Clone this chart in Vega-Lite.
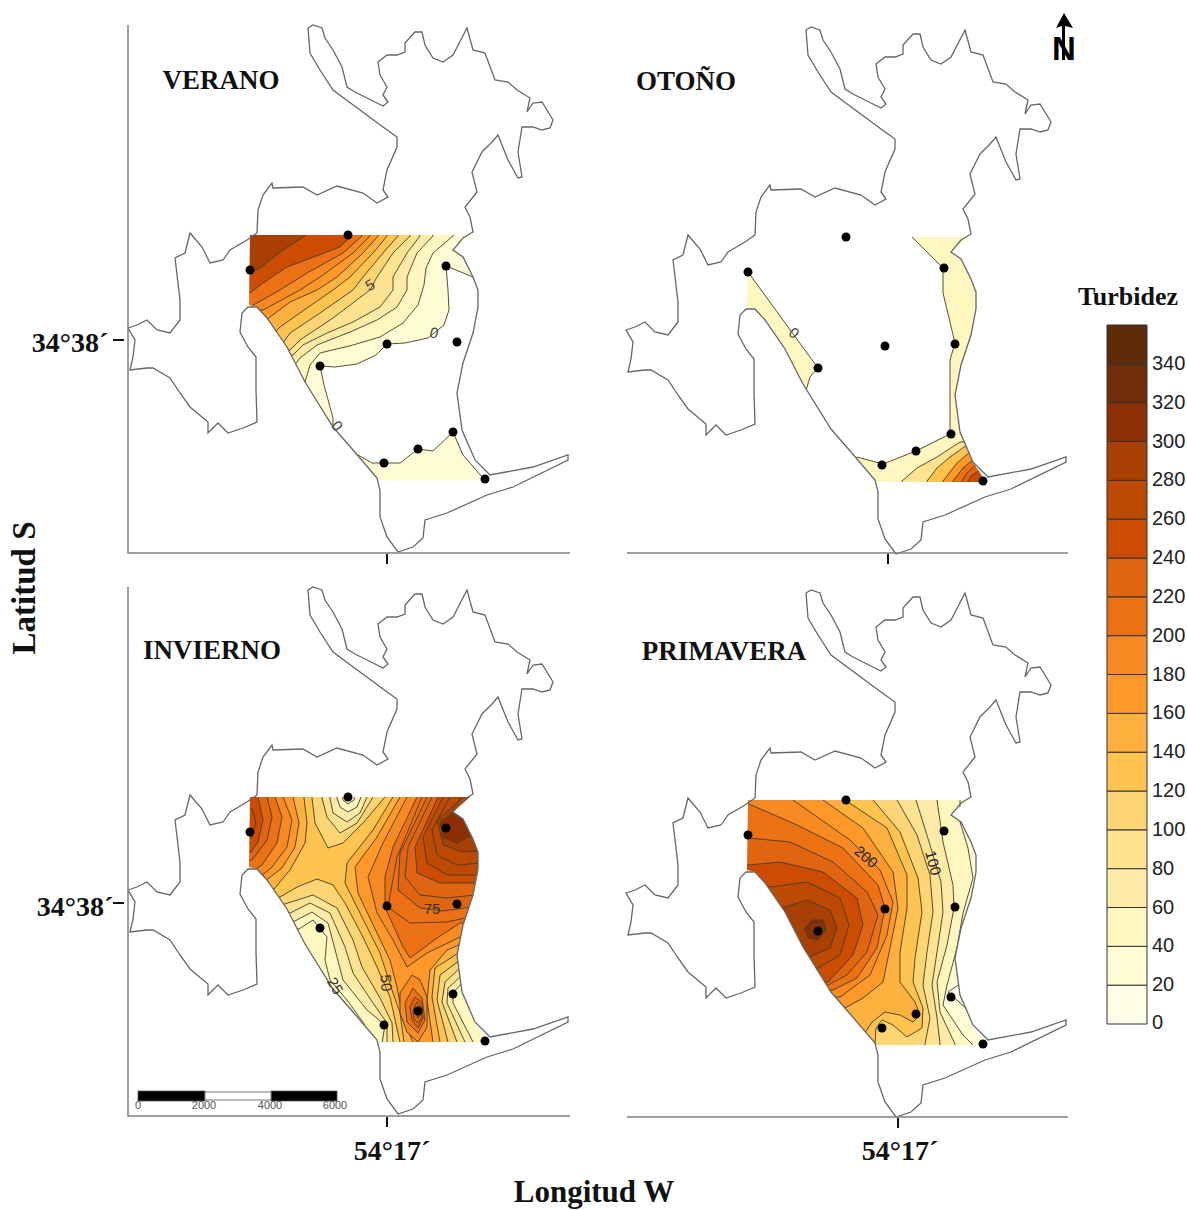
{
"$schema":"https://vega.github.io/schema/vega-lite/v6.json",
"width":1187,"height":1210,"autosize":"none","padding":0,"background":"white",
"config":{"view":{"stroke":null}},
"resolve":{"scale":{"x":"independent","y":"independent"}},
"datasets":{
"outline":[{"i":1,"x":308,"y":28},{"i":2,"x":310,"y":53},{"i":3,"x":320,"y":70},{"i":4,"x":333,"y":90},{"i":5,"x":360,"y":110},{"i":6,"x":383,"y":127},{"i":7,"x":397,"y":137},{"i":8,"x":397,"y":147},{"i":9,"x":387,"y":170},{"i":10,"x":383,"y":190},{"i":11,"x":388,"y":197},{"i":12,"x":377,"y":203},{"i":13,"x":363,"y":193},{"i":14,"x":337,"y":186},{"i":15,"x":317,"y":195},{"i":16,"x":303,"y":187},{"i":17,"x":273,"y":188},{"i":18,"x":272,"y":183},{"i":19,"x":263,"y":195},{"i":20,"x":258,"y":210},{"i":21,"x":257,"y":233},{"i":22,"x":247,"y":240},{"i":23,"x":230,"y":250},{"i":24,"x":223,"y":260},{"i":25,"x":210,"y":263},{"i":26,"x":202,"y":247},{"i":27,"x":190,"y":233},{"i":28,"x":185,"y":253},{"i":29,"x":175,"y":258},{"i":30,"x":178,"y":283},{"i":31,"x":180,"y":300},{"i":32,"x":180,"y":320},{"i":33,"x":170,"y":333},{"i":34,"x":157,"y":330},{"i":35,"x":147,"y":320},{"i":36,"x":137,"y":325},{"i":37,"x":128,"y":328},{"i":38,"x":135,"y":340},{"i":39,"x":133,"y":357},{"i":40,"x":130,"y":370},{"i":41,"x":147,"y":368},{"i":42,"x":153,"y":368},{"i":43,"x":170,"y":378},{"i":44,"x":180,"y":393},{"i":45,"x":190,"y":407},{"i":46,"x":208,"y":422},{"i":47,"x":208,"y":433},{"i":48,"x":218,"y":423},{"i":49,"x":228,"y":433},{"i":50,"x":243,"y":428},{"i":51,"x":257,"y":422},{"i":52,"x":256,"y":390},{"i":53,"x":256,"y":357},{"i":54,"x":248,"y":347},{"i":55,"x":240,"y":332},{"i":56,"x":242,"y":313},{"i":57,"x":248,"y":307},{"i":58,"x":257,"y":307},{"i":59,"x":267,"y":318},{"i":60,"x":287,"y":347},{"i":61,"x":305,"y":382},{"i":62,"x":333,"y":427},{"i":63,"x":353,"y":450},{"i":64,"x":377,"y":478},{"i":65,"x":380,"y":490},{"i":66,"x":380,"y":517},{"i":67,"x":387,"y":537},{"i":68,"x":398,"y":552},{"i":69,"x":413,"y":547},{"i":70,"x":423,"y":538},{"i":71,"x":425,"y":520},{"i":72,"x":447,"y":513},{"i":73,"x":487,"y":495},{"i":74,"x":513,"y":487},{"i":75,"x":568,"y":460},{"i":76,"x":568,"y":455},{"i":77,"x":533,"y":467},{"i":78,"x":490,"y":475},{"i":79,"x":475,"y":460},{"i":80,"x":462,"y":430},{"i":81,"x":457,"y":393},{"i":82,"x":463,"y":363},{"i":83,"x":473,"y":333},{"i":84,"x":478,"y":307},{"i":85,"x":478,"y":290},{"i":86,"x":473,"y":277},{"i":87,"x":463,"y":257},{"i":88,"x":453,"y":250},{"i":89,"x":463,"y":238},{"i":90,"x":473,"y":232},{"i":91,"x":470,"y":217},{"i":92,"x":465,"y":207},{"i":93,"x":477,"y":192},{"i":94,"x":472,"y":172},{"i":95,"x":482,"y":152},{"i":96,"x":492,"y":142},{"i":97,"x":498,"y":135},{"i":98,"x":508,"y":160},{"i":99,"x":518,"y":178},{"i":100,"x":522,"y":177},{"i":101,"x":518,"y":152},{"i":102,"x":522,"y":127},{"i":103,"x":533,"y":127},{"i":104,"x":542,"y":130},{"i":105,"x":550,"y":128},{"i":106,"x":553,"y":120},{"i":107,"x":542,"y":102},{"i":108,"x":533,"y":103},{"i":109,"x":527,"y":112},{"i":110,"x":530,"y":98},{"i":111,"x":517,"y":90},{"i":112,"x":508,"y":82},{"i":113,"x":495,"y":80},{"i":114,"x":485,"y":53},{"i":115,"x":473,"y":50},{"i":116,"x":467,"y":28},{"i":117,"x":453,"y":55},{"i":118,"x":443,"y":62},{"i":119,"x":433,"y":58},{"i":120,"x":425,"y":45},{"i":121,"x":422,"y":32},{"i":122,"x":415,"y":32},{"i":123,"x":405,"y":43},{"i":124,"x":405,"y":52},{"i":125,"x":397,"y":55},{"i":126,"x":387,"y":55},{"i":127,"x":378,"y":62},{"i":128,"x":380,"y":75},{"i":129,"x":387,"y":87},{"i":130,"x":383,"y":95},{"i":131,"x":388,"y":102},{"i":132,"x":383,"y":106},{"i":133,"x":367,"y":98},{"i":134,"x":355,"y":92},{"i":135,"x":347,"y":87},{"i":136,"x":342,"y":67},{"i":137,"x":333,"y":50},{"i":138,"x":325,"y":38},{"i":139,"x":322,"y":28},{"i":140,"x":313,"y":25},{"i":141,"x":308,"y":28}],
"stations":[{"x":348,"y":235},{"x":250,"y":270},{"x":446,"y":266},{"x":387,"y":344},{"x":457,"y":342},{"x":320,"y":366},{"x":453,"y":432},{"x":418,"y":449},{"x":384,"y":463},{"x":485,"y":479}]
},
"layer":[
{"data":{"values":[
{"type":"Feature","level":30,"geometry":{"type":"Polygon","coordinates":[[[242,228],[490,228],[490,270],[473,277],[446,266],[448,290],[449,310],[444,325],[428,338],[405,343],[387,344],[376,355],[357,364],[335,367],[320,366],[324,385],[333,418],[333,428],[242,428],[242,228]]]}},
{"type":"Feature","level":30,"geometry":{"type":"Polygon","coordinates":[[[334,429],[353,452],[372,463],[384,463],[400,463],[418,449],[433,451],[453,432],[463,455],[483,478],[490,490],[345,490],[334,429]]]}},
{"type":"Feature","level":50,"geometry":{"type":"Polygon","coordinates":[[[453,228],[453,236],[433,253],[426,268],[424,285],[418,305],[403,323],[380,337],[353,345],[320,353],[310,365],[305,382],[242,382],[242,228],[453,228]]]}},
{"type":"Feature","level":70,"geometry":{"type":"Polygon","coordinates":[[[433,228],[433,236],[417,253],[407,277],[407,290],[397,307],[377,320],[350,332],[317,345],[300,358],[295,365],[242,365],[242,228],[433,228]]]}},
{"type":"Feature","level":90,"geometry":{"type":"Polygon","coordinates":[[[420,228],[420,236],[407,253],[393,277],[393,290],[380,307],[353,322],[327,333],[303,345],[293,355],[242,355],[242,228],[420,228]]]}},
{"type":"Feature","level":110,"geometry":{"type":"Polygon","coordinates":[[[410,228],[410,236],[393,253],[377,277],[370,290],[333,318],[300,340],[290,350],[242,350],[242,228],[410,228]]]}},
{"type":"Feature","level":130,"geometry":{"type":"Polygon","coordinates":[[[398,228],[398,236],[383,253],[363,277],[353,290],[320,313],[290,333],[283,343],[242,343],[242,228],[398,228]]]}},
{"type":"Feature","level":150,"geometry":{"type":"Polygon","coordinates":[[[387,228],[387,236],[373,253],[350,277],[333,290],[307,308],[280,327],[275,332],[242,332],[242,228],[387,228]]]}},
{"type":"Feature","level":170,"geometry":{"type":"Polygon","coordinates":[[[378,228],[378,236],[363,253],[337,277],[317,290],[290,302],[270,317],[267,320],[242,320],[242,228],[378,228]]]}},
{"type":"Feature","level":190,"geometry":{"type":"Polygon","coordinates":[[[370,228],[370,236],[353,253],[323,275],[300,290],[263,310],[242,310],[242,228],[370,228]]]}},
{"type":"Feature","level":210,"geometry":{"type":"Polygon","coordinates":[[[362,228],[362,236],[343,253],[307,273],[280,290],[257,303],[250,307],[242,307],[242,228],[362,228]]]}},
{"type":"Feature","level":250,"geometry":{"type":"Polygon","coordinates":[[[351,228],[351,236],[340,247],[287,267],[263,283],[250,293],[242,293],[242,228],[351,228]]]}},
{"type":"Feature","level":290,"geometry":{"type":"Polygon","coordinates":[[[305,228],[305,236],[283,250],[260,268],[250,273],[242,273],[242,228],[305,228]]]}},
{"type":"Feature","level":50,"geometry":{"type":"Polygon","coordinates":[[[748,272],[818,368],[810,377],[805,394],[740,394],[740,272],[748,272]]]}},
{"type":"Feature","level":50,"geometry":{"type":"Polygon","coordinates":[[[912,230],[912,237],[943,268],[943,293],[955,343],[950,360],[950,430],[952,433],[916,451],[883,464],[857,457],[843,472],[843,492],[988,492],[988,230],[912,230]]]}},
{"type":"Feature","level":90,"geometry":{"type":"Polygon","coordinates":[[[988,442],[960,442],[937,457],[917,468],[902,481],[902,492],[988,492],[988,442]]]}},
{"type":"Feature","level":130,"geometry":{"type":"Polygon","coordinates":[[[988,445],[967,445],[950,457],[937,468],[927,481],[927,492],[988,492],[988,445]]]}},
{"type":"Feature","level":170,"geometry":{"type":"Polygon","coordinates":[[[988,452],[970,452],[957,463],[943,481],[943,492],[988,492],[988,452]]]}},
{"type":"Feature","level":210,"geometry":{"type":"Polygon","coordinates":[[[988,458],[975,458],[963,468],[953,481],[953,492],[988,492],[988,458]]]}},
{"type":"Feature","level":230,"geometry":{"type":"Polygon","coordinates":[[[988,463],[978,463],[967,473],[962,481],[962,492],[988,492],[988,463]]]}},
{"type":"Feature","level":250,"geometry":{"type":"Polygon","coordinates":[[[988,469],[982,469],[972,475],[968,481],[968,492],[988,492],[988,469]]]}},
{"type":"Feature","level":130,"geometry":{"type":"Polygon","coordinates":[[[242,790],[493,790],[493,1055],[242,1055],[242,790]]]}},
{"type":"Feature","level":150,"geometry":{"type":"Polygon","coordinates":[[[304,790],[304,798],[307,823],[305,843],[290,870],[274,889],[242,895],[242,790],[304,790]]]}},
{"type":"Feature","level":170,"geometry":{"type":"Polygon","coordinates":[[[293,790],[293,797],[299,823],[295,847],[282,868],[265,881],[242,890],[242,790],[293,790]]]}},
{"type":"Feature","level":190,"geometry":{"type":"Polygon","coordinates":[[[283,790],[283,797],[292,820],[287,847],[272,867],[260,877],[242,880],[242,790],[283,790]]]}},
{"type":"Feature","level":210,"geometry":{"type":"Polygon","coordinates":[[[275,790],[275,797],[282,817],[277,843],[262,865],[254,870],[242,873],[242,790],[275,790]]]}},
{"type":"Feature","level":230,"geometry":{"type":"Polygon","coordinates":[[[267,790],[267,797],[272,817],[267,840],[252,860],[242,863],[242,790],[267,790]]]}},
{"type":"Feature","level":250,"geometry":{"type":"Polygon","coordinates":[[[258,790],[258,797],[263,820],[258,842],[251,852],[242,852],[242,790],[258,790]]]}},
{"type":"Feature","level":250,"geometry":{"type":"Polygon","coordinates":[[[242,808],[252,809],[256,823],[251,838],[242,838],[242,808]]]}},
{"type":"Feature","level":150,"geometry":{"type":"Polygon","coordinates":[[[393,790],[393,797],[373,830],[347,863],[345,883],[360,913],[380,953],[393,993],[400,1013],[404,1042],[404,1055],[493,1055],[493,790],[393,790]]]}},
{"type":"Feature","level":170,"geometry":{"type":"Polygon","coordinates":[[[400,790],[400,797],[377,837],[355,867],[358,893],[377,933],[390,960],[397,987],[403,1020],[413,1042],[413,1055],[433,1055],[433,1042],[427,1000],[430,970],[447,950],[463,943],[493,943],[493,790],[400,790]]]}},
{"type":"Feature","level":190,"geometry":{"type":"Polygon","coordinates":[[[407,790],[407,797],[383,843],[368,877],[377,913],[393,940],[407,967],[427,953],[460,937],[493,937],[493,790],[407,790]]]}},
{"type":"Feature","level":210,"geometry":{"type":"Polygon","coordinates":[[[417,790],[417,797],[393,847],[385,877],[385,907],[403,947],[410,958],[437,938],[460,923],[493,920],[493,790],[417,790]]]}},
{"type":"Feature","level":210,"geometry":{"type":"Polygon","coordinates":[[[422,790],[422,797],[397,857],[388,907],[410,923],[447,922],[493,912],[493,790],[422,790]]]}},
{"type":"Feature","level":230,"geometry":{"type":"Polygon","coordinates":[[[427,790],[427,797],[400,853],[398,890],[420,908],[443,911],[493,904],[493,790],[427,790]]]}},
{"type":"Feature","level":230,"geometry":{"type":"Polygon","coordinates":[[[432,790],[432,797],[408,847],[405,877],[420,895],[447,898],[493,893],[493,790],[432,790]]]}},
{"type":"Feature","level":250,"geometry":{"type":"Polygon","coordinates":[[[438,790],[438,797],[415,847],[417,873],[440,883],[493,883],[493,790],[438,790]]]}},
{"type":"Feature","level":270,"geometry":{"type":"Polygon","coordinates":[[[443,790],[443,797],[423,837],[427,863],[447,875],[493,875],[493,790],[443,790]]]}},
{"type":"Feature","level":270,"geometry":{"type":"Polygon","coordinates":[[[450,790],[450,797],[432,830],[437,855],[457,865],[493,862],[493,790],[450,790]]]}},
{"type":"Feature","level":290,"geometry":{"type":"Polygon","coordinates":[[[460,790],[460,800],[437,820],[443,845],[463,852],[493,850],[493,790],[460,790]]]}},
{"type":"Feature","level":310,"geometry":{"type":"Polygon","coordinates":[[[453,813],[440,822],[443,837],[457,843],[472,835],[493,830],[493,807],[453,813]]]}},
{"type":"Feature","level":190,"geometry":{"type":"Polygon","coordinates":[[[412,975],[400,993],[400,1013],[407,1032],[418,1042],[427,1027],[427,997],[420,980],[412,975]]]}},
{"type":"Feature","level":210,"geometry":{"type":"Polygon","coordinates":[[[413,988],[405,1003],[407,1022],[418,1033],[425,1020],[422,998],[413,988]]]}},
{"type":"Feature","level":230,"geometry":{"type":"Polygon","coordinates":[[[415,997],[410,1007],[412,1020],[418,1028],[423,1018],[422,1003],[415,997]]]}},
{"type":"Feature","level":230,"geometry":{"type":"Polygon","coordinates":[[[417,1002],[413,1010],[414,1019],[418,1023],[422,1017],[421,1007],[417,1002]]]}},
{"type":"Feature","level":250,"geometry":{"type":"Polygon","coordinates":[[[418,1006],[415,1012],[418,1018],[421,1013],[418,1006]]]}},
{"type":"Feature","level":110,"geometry":{"type":"Polygon","coordinates":[[[312,790],[312,798],[315,823],[328,848],[343,843],[363,823],[385,797],[385,790],[312,790]]]}},
{"type":"Feature","level":90,"geometry":{"type":"Polygon","coordinates":[[[322,790],[322,798],[327,817],[340,833],[357,823],[373,797],[373,790],[322,790]]]}},
{"type":"Feature","level":70,"geometry":{"type":"Polygon","coordinates":[[[330,790],[330,798],[333,813],[347,822],[360,813],[367,797],[367,790],[330,790]]]}},
{"type":"Feature","level":50,"geometry":{"type":"Polygon","coordinates":[[[337,790],[337,798],[340,807],[348,812],[357,807],[361,797],[361,790],[337,790]]]}},
{"type":"Feature","level":30,"geometry":{"type":"Polygon","coordinates":[[[342,790],[343,800],[348,804],[354,800],[355,790],[342,790]]]}},
{"type":"Feature","level":110,"geometry":{"type":"Polygon","coordinates":[[[242,900],[280,897],[297,887],[317,879],[333,885],[345,903],[363,937],[377,967],[390,997],[400,1042],[400,1055],[242,1055],[242,900]]]}},
{"type":"Feature","level":90,"geometry":{"type":"Polygon","coordinates":[[[242,904],[285,904],[313,895],[337,908],[353,940],[362,967],[380,998],[392,1023],[393,1042],[393,1055],[242,1055],[242,904]]]}},
{"type":"Feature","level":70,"geometry":{"type":"Polygon","coordinates":[[[242,913],[290,913],[310,903],[330,913],[345,947],[353,973],[373,1003],[387,1023],[387,1042],[387,1055],[242,1055],[242,913]]]}},
{"type":"Feature","level":50,"geometry":{"type":"Polygon","coordinates":[[[242,921],[295,921],[312,912],[328,923],[337,957],[343,980],[367,1010],[385,1025],[380,1055],[242,1055],[242,921]]]}},
{"type":"Feature","level":50,"geometry":{"type":"Polygon","coordinates":[[[242,929],[299,929],[313,920],[327,937],[325,960],[330,980],[347,1000],[365,1025],[242,1055],[242,929]]]}},
{"type":"Feature","level":130,"geometry":{"type":"Polygon","coordinates":[[[493,950],[460,952],[435,968],[432,997],[440,1042],[440,1055],[493,1055],[493,950]]]}},
{"type":"Feature","level":110,"geometry":{"type":"Polygon","coordinates":[[[493,958],[460,960],[440,975],[437,1000],[448,1042],[448,1055],[493,1055],[493,958]]]}},
{"type":"Feature","level":90,"geometry":{"type":"Polygon","coordinates":[[[493,968],[460,968],[445,982],[442,1002],[457,1042],[457,1055],[493,1055],[493,968]]]}},
{"type":"Feature","level":70,"geometry":{"type":"Polygon","coordinates":[[[493,977],[460,977],[448,988],[447,1003],[465,1042],[465,1055],[493,1055],[493,977]]]}},
{"type":"Feature","level":50,"geometry":{"type":"Polygon","coordinates":[[[493,985],[462,983],[453,993],[453,1003],[473,1042],[473,1055],[493,1055],[493,985]]]}},
{"type":"Feature","level":30,"geometry":{"type":"Polygon","coordinates":[[[740,793],[992,793],[992,1058],[740,1058],[740,793]]]}},
{"type":"Feature","level":10,"geometry":{"type":"Polygon","coordinates":[[[960,984],[948,992],[970,1012],[963,998],[960,984]]]}},
{"type":"Feature","level":50,"geometry":{"type":"Polygon","coordinates":[[[960,793],[960,822],[968,848],[973,878],[963,913],[957,948],[947,985],[943,1005],[963,1035],[972,1044],[972,1058],[740,1058],[740,793],[960,793]]]}},
{"type":"Feature","level":70,"geometry":{"type":"Polygon","coordinates":[[[937,793],[937,800],[943,842],[953,885],[954,908],[947,945],[937,982],[940,1012],[955,1044],[955,1058],[740,1058],[740,793],[937,793]]]}},
{"type":"Feature","level":90,"geometry":{"type":"Polygon","coordinates":[[[916,793],[916,800],[930,845],[941,882],[943,912],[937,952],[932,985],[937,1018],[940,1044],[940,1058],[740,1058],[740,793],[916,793]]]}},
{"type":"Feature","level":110,"geometry":{"type":"Polygon","coordinates":[[[897,793],[897,800],[917,835],[930,875],[933,912],[927,952],[923,985],[930,1018],[925,1044],[925,1058],[740,1058],[740,793],[897,793]]]}},
{"type":"Feature","level":130,"geometry":{"type":"Polygon","coordinates":[[[873,793],[873,800],[900,832],[918,878],[922,912],[915,958],[913,982],[923,1008],[922,1028],[907,1037],[893,1025],[882,1020],[876,1028],[875,1044],[875,1058],[740,1058],[740,793],[873,793]]]}},
{"type":"Feature","level":150,"geometry":{"type":"Polygon","coordinates":[[[848,793],[848,802],[887,828],[907,875],[907,908],[900,952],[900,982],[915,1002],[920,1015],[913,1022],[900,1015],[885,1012],[872,1022],[865,1033],[740,1058],[740,793],[848,793]]]}},
{"type":"Feature","level":170,"geometry":{"type":"Polygon","coordinates":[[[823,793],[823,800],[863,828],[893,872],[898,908],[890,948],[883,982],[863,998],[845,1008],[740,1012],[740,793],[823,793]]]}},
{"type":"Feature","level":190,"geometry":{"type":"Polygon","coordinates":[[[793,793],[793,800],[850,840],[880,870],[893,902],[887,935],[870,975],[840,997],[740,998],[740,793],[793,793]]]}},
{"type":"Feature","level":210,"geometry":{"type":"Polygon","coordinates":[[[740,802],[749,804],[797,825],[843,848],[878,885],[885,908],[877,948],[857,978],[833,990],[740,993],[740,802]]]}},
{"type":"Feature","level":230,"geometry":{"type":"Polygon","coordinates":[[[740,838],[749,838],[790,842],[833,862],[867,892],[878,915],[867,952],[847,975],[828,985],[740,988],[740,838]]]}},
{"type":"Feature","level":250,"geometry":{"type":"Polygon","coordinates":[[[740,865],[749,865],[780,862],[823,872],[857,898],[863,925],[853,955],[828,982],[740,983],[740,865]]]}},
{"type":"Feature","level":270,"geometry":{"type":"Polygon","coordinates":[[[740,887],[770,887],[807,882],[840,898],[849,925],[840,955],[818,968],[740,970],[740,887]]]}},
{"type":"Feature","level":290,"geometry":{"type":"Polygon","coordinates":[[[740,907],[785,907],[807,900],[830,910],[837,928],[830,948],[810,957],[740,958],[740,907]]]}},
{"type":"Feature","level":310,"geometry":{"type":"Polygon","coordinates":[[[805,928],[812,920],[823,920],[826,930],[818,940],[808,938],[805,928]]]}},
{"type":"Feature","level":310,"geometry":{"type":"Polygon","coordinates":[[[808,928],[813,922],[822,923],[823,932],[817,938],[808,928]]]}}
]},
"projection":{"type":"identity","scale":1,"translate":[0,0]},
"mark":{"type":"geoshape","stroke":"#4a3a20","strokeWidth":0.9},
"encoding":{"color":{"field":"level","type":"quantitative","bin":{"step":20,"extent":[0,360]},
"scale":{"range":["#FFFFE8","#FFFBD5","#FFF6C0","#FEEBA8","#FEE391","#FED574","#FEC44F","#FEB13F","#FE9929","#F78A22","#EC7014","#DF6510","#CC4C02","#BD4A02","#A84003","#8C3004","#702E08","#5F2C0A"]},
"legend":{"type":"gradient","orient":"none","legendX":1107,"legendY":325,"title":null,"direction":"vertical","gradientLength":699,"gradientThickness":40,"gradientStrokeColor":"#333","gradientStrokeWidth":1,"labelFont":"Liberation Sans","labelFontSize":20,"labelColor":"#222","labelOffset":5,"labelBaseline":"middle","labelOverlap":false,"labelExpr":"datum.value==360?'':datum.label"}}}},
{"data":{"values":[
{"type":"Feature","geometry":{"type":"Polygon","coordinates":[[[238,224],[238,496],[496,496],[496,224],[238,224]],[[250,235],[470,235],[453,250],[463,257],[473,277],[478,290],[478,307],[473,333],[463,363],[457,393],[462,430],[475,460],[488,480],[377,480],[377,478],[353,450],[333,427],[305,382],[287,347],[267,318],[257,307],[249,305],[250,235]]]}},
{"type":"Feature","geometry":{"type":"Polygon","coordinates":[[[736,226],[736,498],[994,498],[994,226],[736,226]],[[748,237],[968,237],[951,252],[961,259],[971,279],[976,292],[976,309],[971,335],[961,365],[955,395],[960,432],[973,462],[986,482],[875,482],[875,480],[851,452],[831,429],[803,384],[785,349],[765,320],[755,309],[747,307],[748,237]]]}},
{"type":"Feature","geometry":{"type":"Polygon","coordinates":[[[238,786],[238,1058],[496,1058],[496,786],[238,786]],[[250,797],[470,797],[453,812],[463,819],[473,839],[478,852],[478,869],[473,895],[463,925],[457,955],[462,992],[475,1022],[488,1042],[377,1042],[377,1040],[353,1012],[333,989],[305,944],[287,909],[267,880],[257,869],[249,867],[250,797]]]}},
{"type":"Feature","geometry":{"type":"Polygon","coordinates":[[[736,789],[736,1061],[994,1061],[994,789],[736,789]],[[748,800],[968,800],[951,815],[961,822],[971,842],[976,855],[976,872],[971,898],[961,928],[955,958],[960,995],[973,1025],[986,1045],[875,1045],[875,1043],[851,1015],[831,992],[803,947],[785,912],[765,883],[755,872],[747,870],[748,800]]]}}
]},"projection":{"type":"identity","scale":1,"translate":[0,0]},"mark":{"type":"geoshape","fill":"white","stroke":null},"encoding":{}},
{"data":{"name":"outline"},"mark":{"type":"line","stroke":"#666666","strokeWidth":1.3},"encoding":{"order":{"field":"i"},"x":{"field":"x","type":"quantitative","axis":null,"scale":{"domain":[0,1187],"nice":false,"zero":false}},"y":{"field":"y","type":"quantitative","axis":null,"scale":{"domain":[0,1210],"reverse":true,"nice":false,"zero":false}}}},
{"data":{"name":"outline"},"mark":{"type":"line","stroke":"#666666","strokeWidth":1.3},"encoding":{"order":{"field":"i"},"x":{"field":"x","type":"quantitative","axis":null,"scale":{"domain":[-498,689],"nice":false,"zero":false}},"y":{"field":"y","type":"quantitative","axis":null,"scale":{"domain":[-2,1208],"reverse":true,"nice":false,"zero":false}}}},
{"data":{"name":"outline"},"mark":{"type":"line","stroke":"#666666","strokeWidth":1.3},"encoding":{"order":{"field":"i"},"x":{"field":"x","type":"quantitative","axis":null,"scale":{"domain":[0,1187],"nice":false,"zero":false}},"y":{"field":"y","type":"quantitative","axis":null,"scale":{"domain":[-562,648],"reverse":true,"nice":false,"zero":false}}}},
{"data":{"name":"outline"},"mark":{"type":"line","stroke":"#666666","strokeWidth":1.3},"encoding":{"order":{"field":"i"},"x":{"field":"x","type":"quantitative","axis":null,"scale":{"domain":[-498,689],"nice":false,"zero":false}},"y":{"field":"y","type":"quantitative","axis":null,"scale":{"domain":[-565,645],"reverse":true,"nice":false,"zero":false}}}},
{"data":{"name":"stations"},"mark":{"type":"circle","size":80,"color":"black","opacity":1},"encoding":{"x":{"field":"x","type":"quantitative","axis":null,"scale":{"domain":[0,1187],"nice":false,"zero":false}},"y":{"field":"y","type":"quantitative","axis":null,"scale":{"domain":[0,1210],"reverse":true,"nice":false,"zero":false}}}},
{"data":{"name":"stations"},"mark":{"type":"circle","size":80,"color":"black","opacity":1},"encoding":{"x":{"field":"x","type":"quantitative","axis":null,"scale":{"domain":[-498,689],"nice":false,"zero":false}},"y":{"field":"y","type":"quantitative","axis":null,"scale":{"domain":[-2,1208],"reverse":true,"nice":false,"zero":false}}}},
{"data":{"name":"stations"},"mark":{"type":"circle","size":80,"color":"black","opacity":1},"encoding":{"x":{"field":"x","type":"quantitative","axis":null,"scale":{"domain":[0,1187],"nice":false,"zero":false}},"y":{"field":"y","type":"quantitative","axis":null,"scale":{"domain":[-562,648],"reverse":true,"nice":false,"zero":false}}}},
{"data":{"name":"stations"},"mark":{"type":"circle","size":80,"color":"black","opacity":1},"encoding":{"x":{"field":"x","type":"quantitative","axis":null,"scale":{"domain":[-498,689],"nice":false,"zero":false}},"y":{"field":"y","type":"quantitative","axis":null,"scale":{"domain":[-565,645],"reverse":true,"nice":false,"zero":false}}}},
{"data":{"values":[{"type":"Feature","geometry":{"type":"MultiLineString","coordinates":[[[128,25],[128,553],[570,553]],[[627,553],[1068,553]],[[128,587],[128,1116],[570,1116]],[[627,1117],[1068,1117]]]}}]},"projection":{"type":"identity","scale":1,"translate":[0,0]},"mark":{"type":"geoshape","filled":false,"stroke":"#808080","strokeWidth":1.5},"encoding":{}},
{"data":{"values":[{"type":"Feature","geometry":{"type":"MultiLineString","coordinates":[[[387,554],[387,564]],[[888,554],[888,564]],[[387,1117],[387,1127]],[[898,1118],[898,1128]],[[113,340],[124,340]],[[113,903],[124,903]]]}}]},"projection":{"type":"identity","scale":1,"translate":[0,0]},"mark":{"type":"geoshape","filled":false,"stroke":"#111111","strokeWidth":2},"encoding":{}},
{"data":{"values":[{"type":"Feature","geometry":{"type":"MultiPolygon","coordinates":[[[[138,1091],[205,1091],[205,1101],[138,1101],[138,1091]]],[[[271,1091],[337,1091],[337,1101],[271,1101],[271,1091]]]]}}]},"projection":{"type":"identity","scale":1,"translate":[0,0]},"mark":{"type":"geoshape","fill":"black","stroke":"#555555","strokeWidth":0.8},"encoding":{}},
{"data":{"values":[{"type":"Feature","geometry":{"type":"Polygon","coordinates":[[[205,1092],[271,1092],[271,1100],[205,1100],[205,1092]]]}}]},"projection":{"type":"identity","scale":1,"translate":[0,0]},"mark":{"type":"geoshape","fill":"white","stroke":"#777777","strokeWidth":1},"encoding":{}},
{"data":{"values":[{"x":138,"y":1106,"t":"0"},{"x":204,"y":1106,"t":"2000"},{"x":270,"y":1106,"t":"4000"},{"x":335,"y":1106,"t":"6000"}]},"projection":{"type":"identity","scale":1,"translate":[0,0]},"mark":{"type":"text","font":"Liberation Sans","fontSize":11,"color":"#555555","align":"center","baseline":"middle"},"encoding":{"longitude":{"field":"x","type":"quantitative"},"latitude":{"field":"y","type":"quantitative"},"text":{"field":"t"}}},
{"data":{"values":[{"x":221,"y":81,"t":"VERANO"},{"x":686,"y":82,"t":"OTOÑO"},{"x":212,"y":651,"t":"INVIERNO"},{"x":724,"y":652,"t":"PRIMAVERA"}]},"projection":{"type":"identity","scale":1,"translate":[0,0]},"mark":{"type":"text","font":"Liberation Serif","fontWeight":"bold","fontSize":27,"color":"#111111","align":"center","baseline":"middle"},"encoding":{"longitude":{"field":"x","type":"quantitative"},"latitude":{"field":"y","type":"quantitative"},"text":{"field":"t"}}},
{"data":{"values":[{"x":70,"y":344,"t":"34°38´"},{"x":75,"y":908,"t":"34°38´"},{"x":392,"y":1152,"t":"54°17´"},{"x":900,"y":1152,"t":"54°17´"}]},"projection":{"type":"identity","scale":1,"translate":[0,0]},"mark":{"type":"text","font":"Liberation Serif","fontWeight":"bold","fontSize":28,"color":"#111111","align":"center","baseline":"middle"},"encoding":{"longitude":{"field":"x","type":"quantitative"},"latitude":{"field":"y","type":"quantitative"},"text":{"field":"t"}}},
{"data":{"values":[{"x":594,"y":1193,"t":"Longitud W"}]},"projection":{"type":"identity","scale":1,"translate":[0,0]},"mark":{"type":"text","font":"Liberation Serif","fontWeight":"bold","fontSize":31,"color":"#111111","align":"center","baseline":"middle"},"encoding":{"longitude":{"field":"x","type":"quantitative"},"latitude":{"field":"y","type":"quantitative"},"text":{"field":"t"}}},
{"data":{"values":[{"x":25,"y":588,"t":"Latitud S"}]},"projection":{"type":"identity","scale":1,"translate":[0,0]},"mark":{"type":"text","font":"Liberation Serif","fontWeight":"bold","fontSize":33,"angle":270,"color":"#111111","align":"center","baseline":"middle"},"encoding":{"longitude":{"field":"x","type":"quantitative"},"latitude":{"field":"y","type":"quantitative"},"text":{"field":"t"}}},
{"data":{"values":[{"x":1128,"y":297,"t":"Turbidez"}]},"projection":{"type":"identity","scale":1,"translate":[0,0]},"mark":{"type":"text","font":"Liberation Serif","fontWeight":"bold","fontSize":26,"color":"#111111","align":"center","baseline":"middle"},"encoding":{"longitude":{"field":"x","type":"quantitative"},"latitude":{"field":"y","type":"quantitative"},"text":{"field":"t"}}},
{"data":{"values":[{"x":1152,"y":1023,"t":"0"}]},"projection":{"type":"identity","scale":1,"translate":[0,0]},"mark":{"type":"text","font":"Liberation Sans","fontSize":20,"color":"#222222","align":"left","baseline":"middle"},"encoding":{"longitude":{"field":"x","type":"quantitative"},"latitude":{"field":"y","type":"quantitative"},"text":{"field":"t"}}},
{"data":{"values":[{"x":1064,"y":60,"t":"N"}]},"projection":{"type":"identity","scale":1,"translate":[0,0]},"mark":{"type":"text","font":"Liberation Sans","fontWeight":"bold","fontSize":33,"color":"#000000","align":"center","baseline":"alphabetic"},"encoding":{"longitude":{"field":"x","type":"quantitative"},"latitude":{"field":"y","type":"quantitative"},"text":{"field":"t"}}},
{"data":{"values":[{"type":"Feature","geometry":{"type":"Polygon","coordinates":[[[1064,13],[1073,28],[1065,26],[1065,60],[1062,60],[1062,26],[1056,28],[1064,13]]]}}]},"projection":{"type":"identity","scale":1,"translate":[0,0]},"mark":{"type":"geoshape","fill":"black","stroke":null},"encoding":{}},
{"data":{"values":[{"x":370,"y":285,"t":"5"}]},"projection":{"type":"identity","scale":1,"translate":[0,0]},"mark":{"type":"text","font":"Liberation Sans","fontSize":15,"angle":330,"color":"#444444","align":"center","baseline":"middle"},"encoding":{"longitude":{"field":"x","type":"quantitative"},"latitude":{"field":"y","type":"quantitative"},"text":{"field":"t"}}},
{"data":{"values":[{"x":434,"y":333,"t":"0"}]},"projection":{"type":"identity","scale":1,"translate":[0,0]},"mark":{"type":"text","font":"Liberation Sans","fontSize":15,"angle":15,"color":"#444444","align":"center","baseline":"middle"},"encoding":{"longitude":{"field":"x","type":"quantitative"},"latitude":{"field":"y","type":"quantitative"},"text":{"field":"t"}}},
{"data":{"values":[{"x":337,"y":426,"t":"0"}]},"projection":{"type":"identity","scale":1,"translate":[0,0]},"mark":{"type":"text","font":"Liberation Sans","fontSize":15,"angle":50,"color":"#444444","align":"center","baseline":"middle"},"encoding":{"longitude":{"field":"x","type":"quantitative"},"latitude":{"field":"y","type":"quantitative"},"text":{"field":"t"}}},
{"data":{"values":[{"x":794,"y":333,"t":"0"}]},"projection":{"type":"identity","scale":1,"translate":[0,0]},"mark":{"type":"text","font":"Liberation Sans","fontSize":15,"angle":40,"color":"#444444","align":"center","baseline":"middle"},"encoding":{"longitude":{"field":"x","type":"quantitative"},"latitude":{"field":"y","type":"quantitative"},"text":{"field":"t"}}},
{"data":{"values":[{"x":432,"y":909,"t":"75"}]},"projection":{"type":"identity","scale":1,"translate":[0,0]},"mark":{"type":"text","font":"Liberation Sans","fontSize":15,"color":"#333333","align":"center","baseline":"middle"},"encoding":{"longitude":{"field":"x","type":"quantitative"},"latitude":{"field":"y","type":"quantitative"},"text":{"field":"t"}}},
{"data":{"values":[{"x":386,"y":983,"t":"50"}]},"projection":{"type":"identity","scale":1,"translate":[0,0]},"mark":{"type":"text","font":"Liberation Sans","fontSize":15,"angle":85,"color":"#333333","align":"center","baseline":"middle"},"encoding":{"longitude":{"field":"x","type":"quantitative"},"latitude":{"field":"y","type":"quantitative"},"text":{"field":"t"}}},
{"data":{"values":[{"x":335,"y":986,"t":"25"}]},"projection":{"type":"identity","scale":1,"translate":[0,0]},"mark":{"type":"text","font":"Liberation Sans","fontSize":15,"angle":60,"color":"#333333","align":"center","baseline":"middle"},"encoding":{"longitude":{"field":"x","type":"quantitative"},"latitude":{"field":"y","type":"quantitative"},"text":{"field":"t"}}},
{"data":{"values":[{"x":866,"y":857,"t":"200"}]},"projection":{"type":"identity","scale":1,"translate":[0,0]},"mark":{"type":"text","font":"Liberation Sans","fontSize":15,"angle":40,"color":"#222222","align":"center","baseline":"middle"},"encoding":{"longitude":{"field":"x","type":"quantitative"},"latitude":{"field":"y","type":"quantitative"},"text":{"field":"t"}}},
{"data":{"values":[{"x":933,"y":863,"t":"100"}]},"projection":{"type":"identity","scale":1,"translate":[0,0]},"mark":{"type":"text","font":"Liberation Sans","fontSize":15,"angle":75,"color":"#222222","align":"center","baseline":"middle"},"encoding":{"longitude":{"field":"x","type":"quantitative"},"latitude":{"field":"y","type":"quantitative"},"text":{"field":"t"}}}
]
}
